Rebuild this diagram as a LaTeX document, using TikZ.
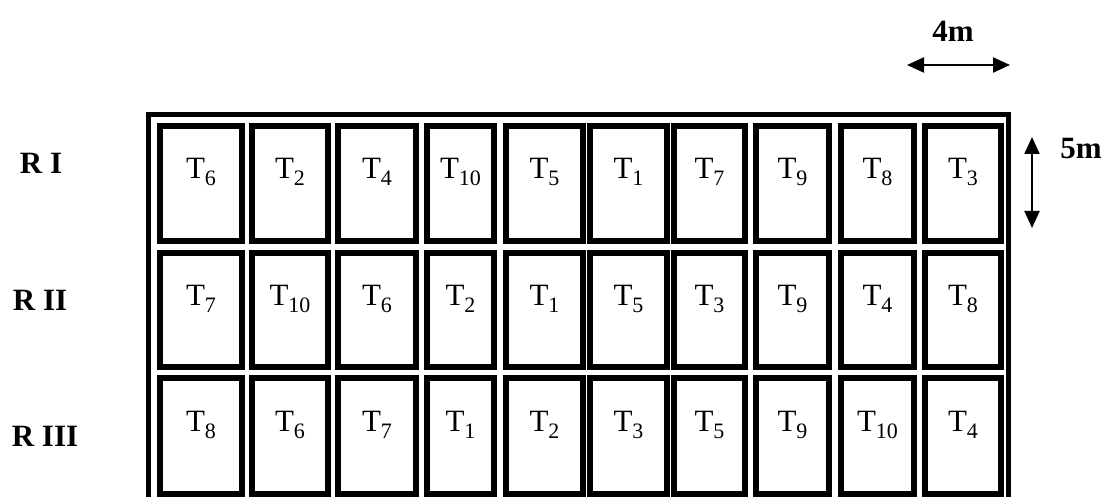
\documentclass[tikz,border=0pt]{standalone}
\usepackage{fontspec}
\setmainfont{Liberation Serif}
\usetikzlibrary{arrows.meta}

\newcommand{\trt}[1]{T\raisebox{-7pt}{\fontsize{22}{22}\selectfont #1}}

\begin{document}
\begin{tikzpicture}[
    x=1pt, y=1pt,
    cell/.style={rectangle, draw, line width=6pt, inner sep=0pt, text depth=30pt, font=\fontsize{31}{33}\selectfont},
    replabel/.style={font=\fontsize{31}{33}\selectfont\bfseries, inner sep=0pt},
    dimarrow/.style={{Triangle[length=17pt, width=15pt]}-{Triangle[length=17pt, width=15pt]}, line width=2.2pt}
]
\clip (0,0) rectangle (1107,497);

% Outer field border
\draw[line width=5pt] (148.5,-20) rectangle (1008.5,382);

% Replication I
\begin{scope}[yshift=313.5pt]
    \node[replabel] (rep1) at (41, 20) {R I};
    \node[cell, minimum width=82pt, minimum height=115pt] (r1c1) at (201, 0) {\trt{6}};
    \node[cell, minimum width=76pt, minimum height=115pt] (r1c2) at (290, 0) {\trt{2}};
    \node[cell, minimum width=78pt, minimum height=115pt] (r1c3) at (377, 0) {\trt{4}};
    \node[cell, minimum width=67pt, minimum height=115pt] (r1c4) at (460.5, 0) {\trt{10}};
    \node[cell, minimum width=77pt, minimum height=115pt] (r1c5) at (544.5, 0) {\trt{5}};
    \node[cell, minimum width=77pt, minimum height=115pt] (r1c6) at (628.5, 0) {\trt{1}};
    \node[cell, minimum width=71pt, minimum height=115pt] (r1c7) at (709.5, 0) {\trt{7}};
    \node[cell, minimum width=73pt, minimum height=115pt] (r1c8) at (792.5, 0) {\trt{9}};
    \node[cell, minimum width=73pt, minimum height=115pt] (r1c9) at (877.5, 0) {\trt{8}};
    \node[cell, minimum width=76pt, minimum height=115pt] (r1c10) at (963, 0) {\trt{3}};
\end{scope}

% Replication II
\begin{scope}[yshift=187pt]
    \node[replabel] (rep2) at (40, 10) {R II};
    \node[cell, minimum width=82pt, minimum height=114pt] (r2c1) at (201, 0) {\trt{7}};
    \node[cell, minimum width=76pt, minimum height=114pt] (r2c2) at (290, 0) {\trt{10}};
    \node[cell, minimum width=78pt, minimum height=114pt] (r2c3) at (377, 0) {\trt{6}};
    \node[cell, minimum width=67pt, minimum height=114pt] (r2c4) at (460.5, 0) {\trt{2}};
    \node[cell, minimum width=77pt, minimum height=114pt] (r2c5) at (544.5, 0) {\trt{1}};
    \node[cell, minimum width=77pt, minimum height=114pt] (r2c6) at (628.5, 0) {\trt{5}};
    \node[cell, minimum width=71pt, minimum height=114pt] (r2c7) at (709.5, 0) {\trt{3}};
    \node[cell, minimum width=73pt, minimum height=114pt] (r2c8) at (792.5, 0) {\trt{9}};
    \node[cell, minimum width=73pt, minimum height=114pt] (r2c9) at (877.5, 0) {\trt{4}};
    \node[cell, minimum width=76pt, minimum height=114pt] (r2c10) at (963, 0) {\trt{8}};
\end{scope}

% Replication III
\begin{scope}[yshift=61pt]
    \node[replabel] (rep3) at (45, -0.5) {R III};
    \node[cell, minimum width=82pt, minimum height=116pt] (r3c1) at (201, 0) {\trt{8}};
    \node[cell, minimum width=76pt, minimum height=116pt] (r3c2) at (290, 0) {\trt{6}};
    \node[cell, minimum width=78pt, minimum height=116pt] (r3c3) at (377, 0) {\trt{7}};
    \node[cell, minimum width=67pt, minimum height=116pt] (r3c4) at (460.5, 0) {\trt{1}};
    \node[cell, minimum width=77pt, minimum height=116pt] (r3c5) at (544.5, 0) {\trt{2}};
    \node[cell, minimum width=77pt, minimum height=116pt] (r3c6) at (628.5, 0) {\trt{3}};
    \node[cell, minimum width=71pt, minimum height=116pt] (r3c7) at (709.5, 0) {\trt{5}};
    \node[cell, minimum width=73pt, minimum height=116pt] (r3c8) at (792.5, 0) {\trt{9}};
    \node[cell, minimum width=73pt, minimum height=116pt] (r3c9) at (877.5, 0) {\trt{10}};
    \node[cell, minimum width=76pt, minimum height=116pt] (r3c10) at (963, 0) {\trt{4}};
\end{scope}

% Plot dimensions
\node[replabel] (wlabel) at (953, 466) {4m};
\coordinate (wleft) at (907, 432);
\coordinate (wright) at (1010, 432);
\draw[dimarrow] (wleft) -- (wright);

\node[replabel] (hlabel) at (1081, 348) {5m};
\coordinate (htop) at (1032, 360);
\coordinate (hbot) at (1032, 269);
\draw[dimarrow] (htop) -- (hbot);

\end{tikzpicture}
\end{document}
